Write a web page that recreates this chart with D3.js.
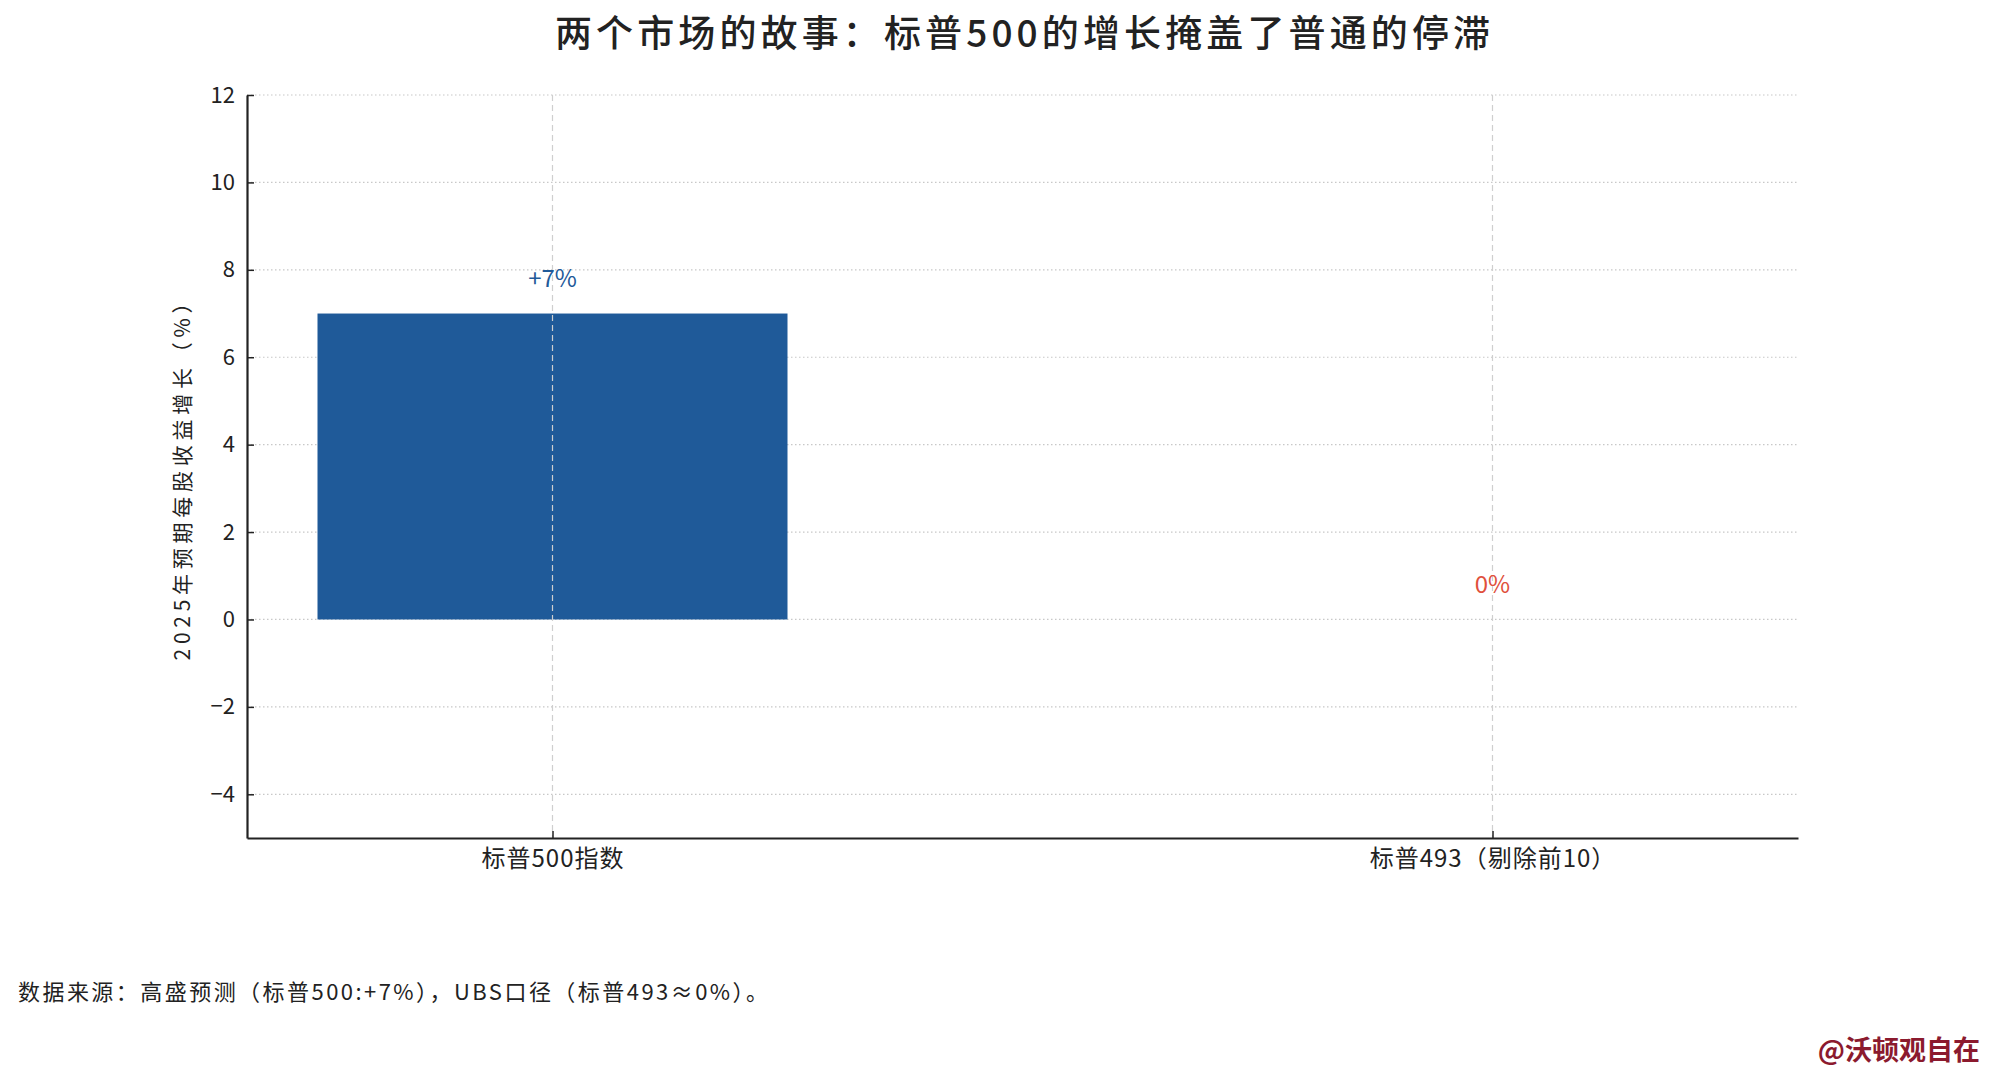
<!DOCTYPE html>
<html>
<head>
<meta charset="utf-8">
<script src="https://cdn.jsdelivr.net/npm/d3@7"></script>
<style>
  body { margin: 0; background: #fff; }
  text { font-family: "Noto Sans CJK SC", "Noto Sans", sans-serif; fill: #222; }
</style>
</head>
<body>
<div id="chart"></div>
<script>
// Data
const categories = ["标普500指数", "标普493（剔除前10）"];
const growth = [7, 0];
const valueLabels = ["+7%", "0%"];
const labelColors = ["#1f5a99", "#e0503c"];
const yTicks = [-4, -2, 0, 2, 4, 6, 8, 10, 12];

const width = 1995;
const height = 1080;
const margin = {left: 247, right: 197, top: 95, bottom: 242};

const svg = d3.select("#chart").append("svg")
    .attr("width", width)
    .attr("height", height);

const innerW = width - margin.left - margin.right;
const innerH = height - margin.top - margin.bottom;

// matplotlib-like x: positions 0..n-1, bar width 0.5, 5% margins
const x = d3.scaleLinear()
    .domain([-0.325, categories.length - 1 + 0.325])
    .range([margin.left, margin.left + innerW]);
const y = d3.scaleLinear()
    .domain([-5, 12])
    .range([margin.top + innerH, margin.top]);

const barWidth = 0.5;

// Grid
svg.append("g")
    .selectAll("line")
    .data(yTicks)
    .join("line")
    .attr("x1", margin.left)
    .attr("x2", margin.left + innerW)
    .attr("y1", d => y(d))
    .attr("y2", d => y(d))
    .attr("stroke", "#c8c8c8")
    .attr("stroke-width", 1.2)
    .attr("stroke-dasharray", "1.5,2.5");

// Bars
svg.append("g")
    .selectAll("rect")
    .data(growth)
    .join("rect")
    .attr("x", (d, i) => x(i - barWidth / 2))
    .attr("width", x(barWidth) - x(0))
    .attr("y", d => y(Math.max(d, 0)))
    .attr("height", d => Math.abs(y(d) - y(0)))
    .attr("fill", "#1f5a99");

// vertical dashed grid on top of bars
svg.append("g")
    .selectAll("line")
    .data(categories)
    .join("line")
    .attr("x1", (d, i) => x(i))
    .attr("x2", (d, i) => x(i))
    .attr("y1", margin.top)
    .attr("y2", margin.top + innerH)
    .attr("stroke", "#cfcfcf")
    .attr("stroke-width", 1.2)
    .attr("stroke-dasharray", "6,4");

// Axes
const yAxis = svg.append("g")
    .attr("transform", `translate(${margin.left},0)`)
    .call(d3.axisLeft(y).tickValues(yTicks).tickSizeInner(-7).tickSizeOuter(0).tickPadding(12));
const xAxis = svg.append("g")
    .attr("transform", `translate(0,${margin.top + innerH})`)
    .call(d3.axisBottom(x).tickValues(d3.range(categories.length))
        .tickFormat(i => categories[i]).tickSizeInner(-7).tickSizeOuter(0).tickPadding(10));

[yAxis, xAxis].forEach(g => {
    g.select(".domain").attr("stroke", "#222").attr("stroke-width", 2.2);
    g.selectAll(".tick line").attr("stroke", "#222").attr("stroke-width", 1.5);
});
yAxis.selectAll(".tick text").style("font-size", "22px").attr("fill", "#222");
xAxis.selectAll(".tick text").style("font-size", "24px").style("letter-spacing", "1px")
    .attr("fill", "#222").attr("dy", "0.8em");

// Value labels
svg.append("g")
    .selectAll("text")
    .data(growth)
    .join("text")
    .attr("x", (d, i) => x(i))
    .attr("y", d => y(d + 0.6))
    .attr("text-anchor", "middle")
    .style("font-size", "24px")
    .style("fill", (d, i) => labelColors[i])
    .text((d, i) => valueLabels[i]);

// Title
svg.append("text")
    .attr("x", margin.left + innerW / 2)
    .attr("y", 47)
    .attr("text-anchor", "middle")
    .attr("textLength", 935)
    .attr("lengthAdjust", "spacing")
    .style("font-size", "37px")
    .style("font-weight", "500")
    .text("两个市场的故事：标普500的增长掩盖了普通的停滞");

// Y label
svg.append("text")
    .attr("transform", `translate(190,${margin.top + innerH / 2 + 10}) rotate(-90)`)
    .attr("text-anchor", "middle")
    .attr("textLength", 368)
    .attr("lengthAdjust", "spacing")
    .style("font-size", "21px")
    .text("2025年预期每股收益增长（%）");

// Source note
svg.append("text")
    .attr("x", 18)
    .attr("y", 1000)
    .attr("textLength", 750)
    .attr("lengthAdjust", "spacing")
    .style("font-size", "22px")
    .text("数据来源：高盛预测（标普500:+7%），UBS口径（标普493≈0%）。");

// Watermark
svg.append("text")
    .attr("x", 1980)
    .attr("y", 1060)
    .attr("text-anchor", "end")
    .style("font-size", "27px")
    .style("font-weight", "600")
    .style("fill", "#8b1a2e")
    .text("@沃顿观自在");
</script>
</body>
</html>
